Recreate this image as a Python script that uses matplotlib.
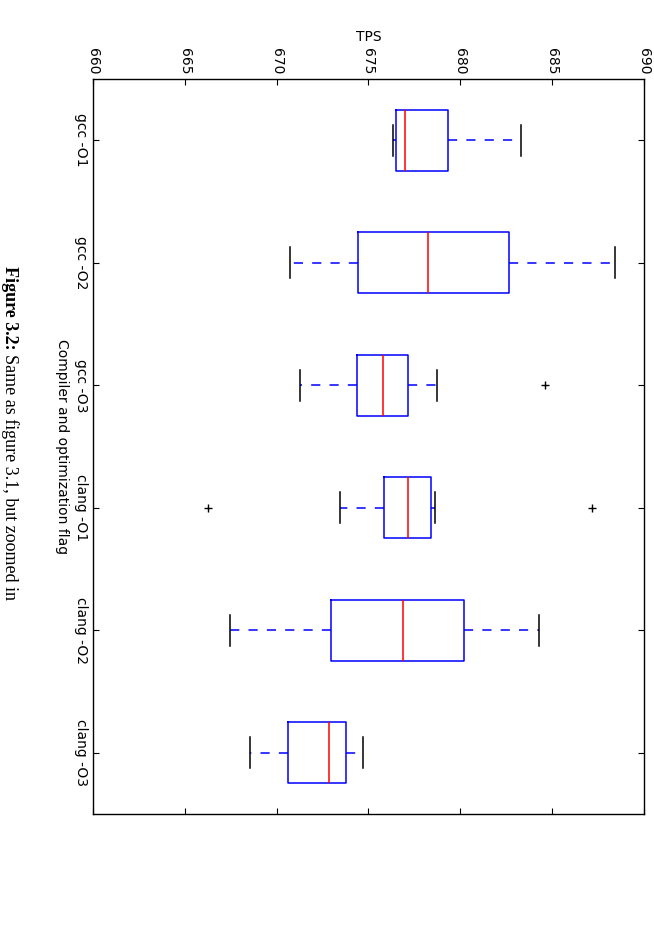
import matplotlib.pyplot as plt

labels = ['gcc -O1', 'gcc -O2', 'gcc -O3', 'clang -O1', 'clang -O2', 'clang -O3']
whislo = [676.33, 670.71, 671.25, 673.45, 667.44, 668.55]
q1 = [676.51, 674.45, 674.35, 675.86, 672.96, 670.64]
med = [677.00, 678.26, 675.79, 677.17, 676.89, 672.83]
q3 = [679.31, 682.67, 677.15, 678.42, 680.18, 673.80]
whishi = [683.28, 688.42, 678.73, 678.62, 684.30, 674.70]
fliers = [[], [], [684.59], [666.28, 687.17], [], []]
tps_ticks = [660, 665, 670, 675, 680, 685, 690]

stats = []
for i in range(len(labels)):
    stats.append(dict(label=labels[i], whislo=whislo[i], q1=q1[i], med=med[i],
                      q3=q3[i], whishi=whishi[i], fliers=fliers[i]))

fig = plt.figure(figsize=(6.54, 9.26), dpi=100)
ax = fig.add_axes([0.1422, 0.1210, 0.8425, 0.7937])

ax.bxp(stats, orientation='horizontal', widths=0.5,
       boxprops=dict(color='b', lw=1.1),
       medianprops=dict(color='r', lw=1.1),
       whiskerprops=dict(color='b', lw=1.1, linestyle=(0, (6, 6))),
       capprops=dict(color='k', lw=1.1),
       flierprops=dict(marker='+', markeredgecolor='k', markersize=6, linestyle='none'))

ax.set_xlim(660, 690)
ax.set_ylim(6.5, 0.5)
ax.set_xticks(tps_ticks)
ax.tick_params(direction='in', top=True, bottom=True, left=True, right=True,
               labeltop=True, labelbottom=False, length=4, labelsize=10)
ax.tick_params(axis='x', labelrotation=270)
ax.tick_params(axis='y', labelrotation=270)
for lbl in ax.get_yticklabels():
    lbl.set_va('center')

ax.xaxis.set_label_position('top')
ax.set_xlabel('TPS', fontsize=10, labelpad=5)
ax.set_ylabel('Compiler and optimization flag', rotation=270, fontsize=10,
              va='center', ha='center')
ax.yaxis.set_label_coords(-0.057, 0.5)
for s in ax.spines.values():
    s.set_linewidth(1)

# caption of the page, rotated with it, kept just inside the left edge
cap_x = 5 / 654
t1 = fig.text(cap_x, 1 - 266 / 926, 'Figure 3.2:', rotation=270, rotation_mode='anchor',
              ha='left', va='baseline', fontsize=13, weight='bold',
              family='Liberation Serif')
fig.canvas.draw()
bb = t1.get_window_extent()
fig.text(cap_x, (bb.y0 - 4) / fig.bbox.height, 'Same as figure 3.1, but zoomed in',
         rotation=270, rotation_mode='anchor', ha='left', va='baseline',
         fontsize=13, family='Liberation Serif')

fig.savefig('out.png', dpi=100)
